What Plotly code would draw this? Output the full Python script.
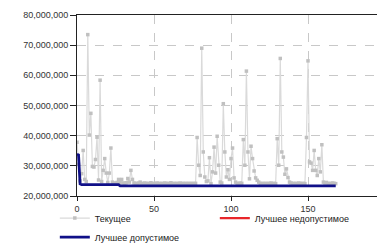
import plotly.graph_objects as go

# Current value per iteration (millions)
current_m = [
    37.8, 30.5, 25.0, 27.4, 35.1, 25.5, 24.8, 73.5, 40.2, 47.4,
    29.8, 29.6, 32.1, 39.5, 25.3, 58.4, 24.8, 28.5, 32.4, 27.6,
    24.5, 27.6, 35.9, 24.6, 24.3, 24.2, 24.5, 25.5, 24.4, 25.5,
    24.3, 24.2, 24.4, 25.8, 24.6, 28.5, 25.5, 24.3, 24.2, 24.1,
    24.3, 24.6, 24.2, 24.1, 24.3, 24.2, 24.1, 24.2, 24.4, 24.1,
    24.2, 24.1, 24.3, 24.2, 24.1, 24.2, 24.1, 24.3, 24.2, 24.1,
    24.2, 24.4, 24.1, 24.2, 24.1, 24.2, 24.1, 24.3, 24.1, 24.2,
    24.1, 24.2, 24.1, 24.2, 24.1, 24.2, 24.1, 24.2, 39.4, 30.2,
    26.8, 69.0, 34.6, 26.3, 24.8, 25.0, 32.7, 24.1, 28.0, 36.2,
    27.6, 39.8, 30.2, 24.6, 24.3, 50.6, 34.6, 26.3, 28.7, 25.5,
    32.4, 35.9, 26.0, 24.6, 24.2, 24.1, 24.3, 24.2, 38.7, 30.2,
    61.4, 34.6, 25.7, 36.5, 32.4, 28.3, 26.0, 25.2, 24.6, 24.2,
    24.1, 24.2, 24.1, 24.2, 24.1, 24.2, 24.3, 24.1, 24.2, 24.1,
    39.0, 30.2, 65.6, 34.6, 32.9, 27.2, 29.0, 26.1, 24.6, 24.3,
    24.2, 24.1, 24.2, 24.1, 24.3, 24.2, 24.1, 24.2, 24.1, 39.4,
    64.8, 31.3, 30.9, 28.5, 35.1, 28.5, 26.8, 32.4, 28.0, 37.0,
    24.6, 24.3, 24.5, 24.2, 24.1, 24.2, 24.3, 24.2, 24.1,
]
iterations = list(range(len(current_m)))

# Best feasible value (change points, millions)
best_feasible_x = [0, 1, 2, 3, 27, 28, 168]
best_feasible_m = [33.8, 33.6, 24.0, 23.75, 23.75, 23.35, 23.35]

# Best infeasible: no values found
best_infeasible_x = [None]
best_infeasible_m = [None]

y_ticks_m = [20, 30, 40, 50, 60, 70, 80]
x_ticks = [0, 50, 100, 150, 200]

fig = go.Figure()
fig.add_trace(go.Scatter(
    x=iterations, y=[v * 1e6 for v in current_m],
    mode="lines+markers", name="Текущее",
    line=dict(color="#dadada", width=1.2),
    marker=dict(symbol="square", size=3.5, color="#c0c0c0"),
))
fig.add_trace(go.Scatter(
    x=best_infeasible_x,
    y=[None if v is None else v * 1e6 for v in best_infeasible_m],
    mode="lines", name="Лучшее недопустимое",
    line=dict(color="#e8262a", width=2.2),
))
fig.add_trace(go.Scatter(
    x=best_feasible_x, y=[v * 1e6 for v in best_feasible_m],
    mode="lines", name="Лучшее допустимое",
    line=dict(color="#101088", width=2.8),
))

# page body has an 8px margin, so the figure is shrunk by 8px
fig.update_layout(
    width=377, height=235,
    margin=dict(l=69, r=0, t=7, b=47, autoexpand=False),
    paper_bgcolor="white", plot_bgcolor="white",
    font=dict(family="Liberation Sans, Arial", size=9, color="#333333"),
    showlegend=True,
    legend=dict(
        orientation="h", x=-0.072, xanchor="left", y=-0.042, yanchor="top",
        entrywidth=115, entrywidthmode="pixels",
        font=dict(size=9, color="#222222"),
        bgcolor="rgba(0,0,0,0)", tracegroupgap=0,
    ),
    xaxis=dict(
        range=[0, 200], tickvals=x_ticks, automargin=False,
        showline=True, linecolor="#222222", linewidth=1, mirror=True,
        ticks="outside", ticklen=4, tickcolor="#222222",
        showgrid=True, gridcolor="#c8c8c8", griddash="dash", gridwidth=1,
        zeroline=False,
    ),
    yaxis=dict(
        range=[20e6, 80e6], tickvals=[v * 1e6 for v in y_ticks_m],
        tickformat=",d", automargin=False,
        showline=True, linecolor="#222222", linewidth=1,
        ticks="outside", ticklen=6, tickcolor="#222222",
        showgrid=True, gridcolor="#c8c8c8", griddash="dash", gridwidth=1,
        zeroline=False,
    ),
)

fig.write_html("out.html")
